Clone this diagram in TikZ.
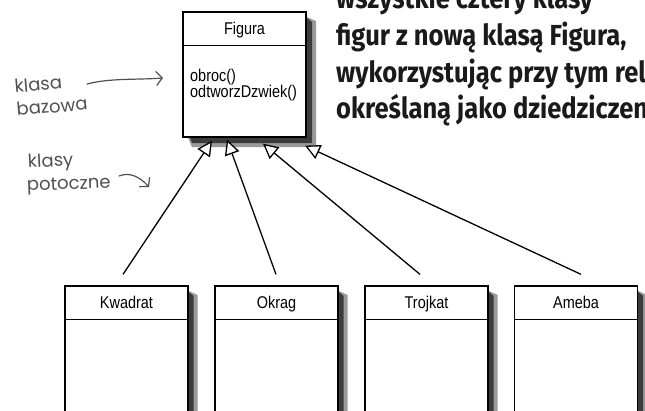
\documentclass[tikz,border=0pt]{standalone}
\usepackage{fontspec}
\setmainfont{Liberation Sans}
\newfontfamily\umlfont[FakeStretch=0.85]{Liberation Sans}
\newfontfamily\handfont{Poppins}
\newfontfamily\headfont[FakeStretch=0.88]{Fira Sans}
\usetikzlibrary{arrows.meta}
\definecolor{handgrey}{HTML}{505050}
\definecolor{ink}{HTML}{1A1A1A}
\definecolor{shadowout}{HTML}{9A9A9A}
\definecolor{shadowin}{HTML}{3C3C3C}
\begin{document}
\begin{tikzpicture}[x=1pt,y=-1pt,
  umlbox/.style={draw=black, line width=1.3pt, fill=white, minimum width=123pt, inner sep=0pt},
  umltext/.style={font=\umlfont\fontsize{17}{16}\selectfont, inner sep=0pt, anchor=base},
  optext/.style={font=\umlfont\fontsize{17}{16}\selectfont, inner sep=0pt, anchor=base west},
  headline/.style={draw=black, line width=1.3pt},
  inh/.style={draw=black, line width=1.3pt, -{Triangle[length=15pt, width=15pt, line width=1.3pt, fill=white]}},
  hand/.style={font=\handfont\fontsize{18}{22}\selectfont, text=handgrey, inner sep=0pt},
  handarrow/.style={draw=handgrey, line width=1.2pt, line cap=round, -{Straight Barb[length=6pt, width=14pt, line width=1.2pt]}},
  bigtext/.style={font=\headfont\bfseries\fontsize{29}{37}\selectfont, text=ink, inner sep=0pt, anchor=base west},
  shout/.style={fill=shadowout, draw=none},
  shin/.style={fill=shadowin, draw=none}
]
\useasboundingbox (0,0) rectangle (645,410);

% shadows of the boxes (right and bottom)
\fill[shout] (306.7,17) -- (316,21) -- (316,147) -- (192,147) -- (188,137.7) -- (306.7,137.7) -- cycle;
\fill[shin] (306.7,18) -- (312,22) -- (312,143) -- (192,143) -- (190,137.7) -- (306.7,137.7) -- cycle;
\foreach \rx in {188.7,338.7,488.7,638.2}{
  \fill[shout] (\rx,291) -- (\rx+9,295) -- (\rx+9,420) -- (\rx,420) -- cycle;
  \fill[shin] (\rx,292) -- (\rx+5,296) -- (\rx+5,420) -- (\rx,420) -- cycle;
}

% base class
\node[umlbox, minimum height=125pt] (fig) at (244.5,74.5) {};
\draw[headline] ([yshift=-34pt]fig.north west) -- ([yshift=-34pt]fig.north east);
\node[umltext] (figname) at ([yshift=-23pt]fig.north) {Figura};
\node[optext] (op1) at (190,81) {obroc()};
\node[optext] (op2) at (190,97) {odtworzDzwiek()};

% derived classes
\node[umlbox, minimum height=184pt] (kw) at (126.5,378) {};
\node[umlbox, minimum height=184pt] (ok) at (276.5,378) {};
\node[umlbox, minimum height=184pt] (tr) at (426.5,378) {};
\node[umlbox, minimum height=184pt] (am) at (576,378) {};
\foreach \b in {kw,ok,tr,am}{
  \draw[headline] ([yshift=-34pt]\b.north west) -- ([yshift=-34pt]\b.north east);
}
\node[umltext] (kwname) at ([yshift=-23pt]kw.north) {Kwadrat};
\node[umltext] (okname) at ([yshift=-23pt]ok.north) {Okrag};
\node[umltext] (trname) at ([yshift=-23pt]tr.north) {Trojkat};
\node[umltext] (amname) at ([yshift=-23pt]am.north) {Ameba};

% inheritance connectors
\draw[inh] ([xshift=-3.5pt,yshift=11pt]kw.north) -- ([xshift=-32.5pt,yshift=-3pt]fig.south);
\draw[inh] ([xshift=-0.5pt,yshift=11pt]ok.north) -- ([xshift=-17.5pt,yshift=-2pt]fig.south);
\draw[inh] ([xshift=-6.5pt,yshift=11pt]tr.north) -- ([xshift=18.5pt,yshift=-6pt]fig.south);
\draw[inh] ([xshift=5pt,yshift=11pt]am.north) -- ([xshift=60.5pt,yshift=-8pt]fig.south);

% handwritten notes
\node[hand, anchor=base west, rotate=5] (kl1) at (15,93) {klasa};
\node[hand, anchor=base west, rotate=5] (kl2) at (17,116) {bazowa};
\coordinate (kla) at (87,84);
\coordinate (klb) at (163,78);
\draw[handarrow] (kla) .. controls (110,78) and (135,80) .. (klb);

\node[hand, anchor=base west, rotate=3] (kp1) at (28,168) {klasy};
\node[hand, anchor=base west, rotate=2] (kp2) at (27,191) {potoczne};
\coordinate (kpa) at (119,176);
\coordinate (kpb) at (149,187);
\draw[handarrow] (kpa) .. controls (129,172) and (139,176) .. (kpb);

% explanatory text
\node[bigtext] (t0) at (336,8) {wszystkie cztery klasy};
\node[bigtext] (t1) at (336,45) {figur z nową klasą Figura,};
\node[bigtext] (t2) at (336,82) {wykorzystując przy tym rel};
\node[bigtext] (t3) at (336,118) {określaną jako dziedziczeni};
\end{tikzpicture}
\end{document}
